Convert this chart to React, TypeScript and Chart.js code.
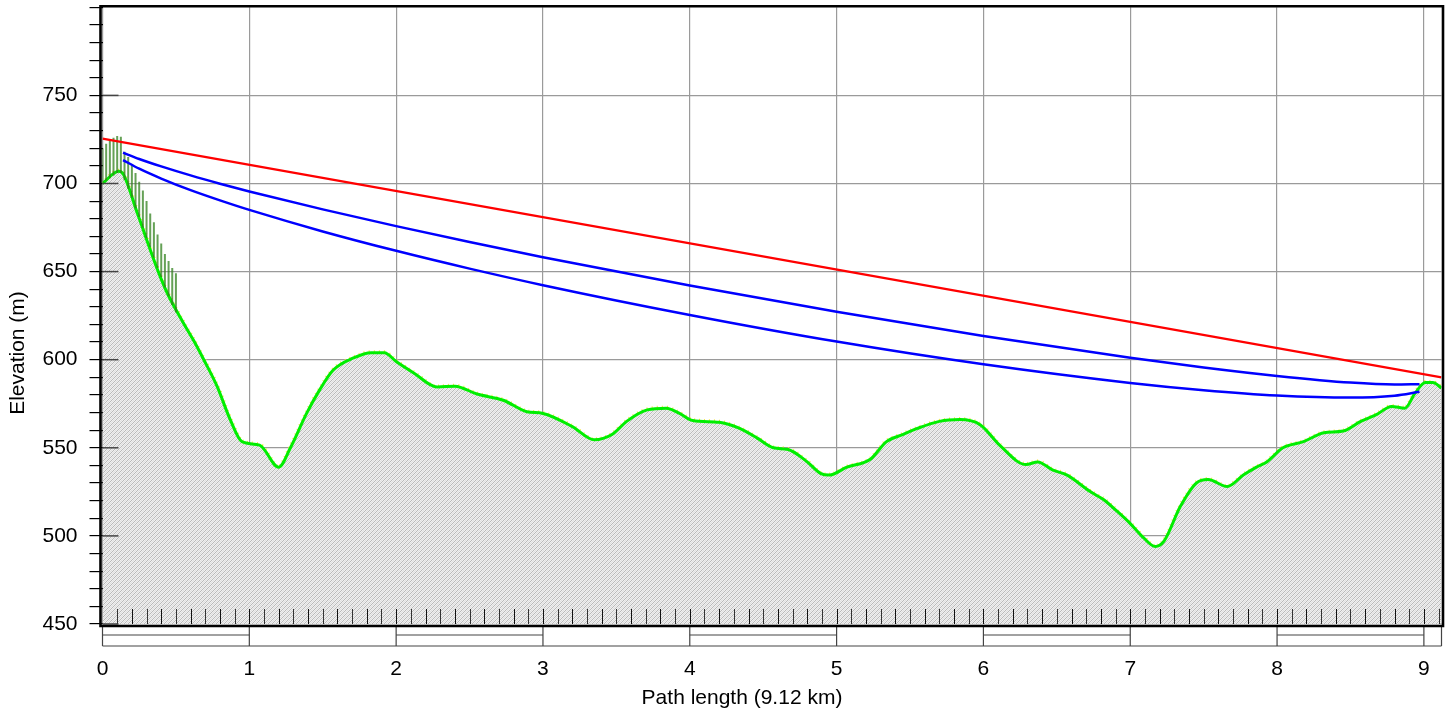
import React, { useEffect, useRef } from "react";
import { Chart, registerables } from "chart.js";

Chart.register(...registerables);

// ---- data ----
const TERRAIN_KM = [0, 0.11, 0.14, 0.24, 0.38, 0.44, 0.55, 0.62, 0.69, 0.78, 0.87, 0.95, 1.07, 1.2, 1.28, 1.39, 1.48, 1.57, 1.71, 1.83, 1.92, 2.0, 2.12, 2.28, 2.4, 2.55, 2.73, 2.89, 3.0, 3.2, 3.35, 3.47, 3.57, 3.71, 3.84, 3.93, 4.02, 4.2, 4.34, 4.46, 4.57, 4.67, 4.8, 4.89, 4.95, 5.07, 5.23, 5.34, 5.45, 5.55, 5.7, 5.84, 5.98, 6.11, 6.29, 6.37, 6.47, 6.57, 6.73, 6.82, 6.91, 7.0, 7.09, 7.17, 7.23, 7.34, 7.45, 7.53, 7.66, 7.77, 7.86, 7.93, 8.04, 8.18, 8.32, 8.45, 8.57, 8.68, 8.78, 8.87, 8.94, 9.01, 9.06, 9.12];
const TERRAIN_ELEV = [700, 707, 705.5, 682.5, 650, 638, 621, 611, 600, 585, 566, 553.5, 551.5, 539, 550, 569.5, 583, 594, 601, 604, 604, 599, 592.5, 584.5, 585, 580.5, 577, 570.5, 569.5, 562, 554.5, 557.5, 565, 571.5, 572.5, 569.5, 565.5, 564.5, 561, 555.5, 550, 549, 542, 535.5, 534.5, 539, 543.5, 553.5, 557.5, 561, 565, 566, 563, 551.5, 540.5, 542, 537.5, 534.5, 525, 520.5, 514, 507, 499, 494, 497, 516.5, 530, 532, 528, 534.5, 539, 542, 550, 553.5, 558.5, 559.5, 565, 569, 573.5, 572.5, 581, 587, 587, 584];

const LOS_KM = [0, 9.12];
const LOS_ELEV = [725.5, 590];

const UPPER_KM = [0.14, 0.25, 0.4, 0.6, 0.8, 1.0, 1.5, 2, 2.5, 3, 4, 5, 6, 7, 7.5, 8, 8.5, 8.8, 8.97];
const UPPER_ELEV = [717.5, 713.9, 709.7, 704.6, 699.9, 695.5, 685.3, 675.8, 666.8, 658.2, 642.1, 627.2, 613.4, 601.1, 595.6, 590.8, 587.0, 585.9, 586.1];

const LOWER_KM = [0.14, 0.25, 0.4, 0.6, 0.8, 1.0, 1.5, 2, 2.5, 3, 4, 5, 6, 7, 7.5, 8, 8.5, 8.8, 8.97];
const LOWER_ELEV = [713.3, 708.4, 702.8, 696.2, 690.4, 685.0, 672.8, 661.8, 651.7, 642.3, 625.4, 610.3, 597.4, 586.8, 582.7, 579.7, 578.5, 579.6, 581.8];

const HATCH_KM = [0, 0.025, 0.05, 0.075, 0.1, 0.125, 0.15, 0.175, 0.2, 0.225, 0.25, 0.275, 0.3, 0.325, 0.35, 0.375, 0.4, 0.425, 0.45, 0.475, 0.5];
const HATCH_TOP = [720, 722.5, 724.5, 726, 727, 726.5, 718, 715, 711, 706, 701, 696, 690, 683, 678, 671, 666, 660, 656, 652, 649];
const HATCH_BOTTOM = [700, 701.5, 703, 704.5, 706, 706, 702, 697, 692, 686, 681, 675, 669, 664, 658, 652, 647, 641, 636, 631, 627];

const X_TICKS = [0, 1, 2, 3, 4, 5, 6, 7, 8, 9];
const Y_TICKS = [450, 460, 470, 480, 490, 500, 510, 520, 530, 540, 550, 560, 570, 580, 590, 600, 610, 620, 630, 640, 650, 660, 670, 680, 690, 700, 710, 720, 730, 740, 750, 760, 770, 780, 790, 800];
const Y_LABELS = [450, 500, 550, 600, 650, 700, 750];
const X_MINOR = Array.from({ length: 91 }, (_, i) => Math.round((i + 1) * 10) / 100);
const SCALE_BAR_FILLED = [[0, 1], [2, 3], [4, 5], [6, 7], [8, 9]];

const X_TITLE = "Path length (9.12 km)";
const Y_TITLE = "Elevation (m)";

const X_MIN = 0;
const X_MAX = 9.12;
const Y_MIN = 450;
const Y_MAX = 800;

const FONT_FAMILY = "'Liberation Sans', Arial, sans-serif";
const FONT = { family: FONT_FAMILY, size: 21 };

const pts = (xs: number[], ys: number[]) => xs.map((x, i) => ({ x, y: ys[i] }));

const extrasPlugin = {
  id: "extras",
  afterDatasetsDraw(chart: any) {
    const { ctx, chartArea } = chart;
    const xs = chart.scales.x;
    const ys = chart.scales.y;
    const L = chartArea.left, R = chartArea.right, T = chartArea.top, B = chartArea.bottom;
    ctx.save();
    // minor ticks along bottom inside plot
    ctx.lineWidth = 1;
    X_MINOR.forEach((v, i) => {
      if (v > X_MAX) return;
      const px = Math.round(xs.getPixelForValue(v)) + 0.5;
      ctx.strokeStyle = i % 2 === 0 ? "#333" : "#111";
      ctx.beginPath();
      ctx.moveTo(px, B - 15);
      ctx.lineTo(px, B);
      ctx.stroke();
    });
    // major y tick extension into plot
    ctx.strokeStyle = "#444";
    ctx.lineWidth = 1.5;
    Y_LABELS.forEach((v) => {
      const py = ys.getPixelForValue(v);
      ctx.beginPath();
      ctx.moveTo(L, py);
      ctx.lineTo(L + 16, py);
      ctx.stroke();
    });
    // scale bar under the axis
    const barTop = B + 2;
    const barBottom = B + 22;
    const barMid = B + 11;
    ctx.strokeStyle = "#444";
    ctx.lineWidth = 1.2;
    ctx.beginPath();
    ctx.moveTo(xs.getPixelForValue(X_MIN), barBottom);
    ctx.lineTo(xs.getPixelForValue(X_MAX), barBottom);
    ctx.stroke();
    [...X_TICKS, X_MAX].forEach((v) => {
      const px = xs.getPixelForValue(v);
      ctx.beginPath();
      ctx.moveTo(px, barTop);
      ctx.lineTo(px, barBottom);
      ctx.stroke();
    });
    SCALE_BAR_FILLED.forEach(([a, b]) => {
      ctx.beginPath();
      ctx.moveTo(xs.getPixelForValue(a), barMid);
      ctx.lineTo(xs.getPixelForValue(b), barMid);
      ctx.stroke();
    });
    // frame
    ctx.strokeStyle = "#000";
    ctx.lineWidth = 2.6;
    ctx.beginPath();
    ctx.moveTo(L - 2, T - 1);
    ctx.lineTo(R + 1.5, T - 1);
    ctx.lineTo(R + 1.5, B + 2);
    ctx.lineTo(L - 2, B + 2);
    ctx.closePath();
    ctx.stroke();
    // axis titles
    ctx.fillStyle = "#000";
    ctx.font = `${FONT.size}px ${FONT_FAMILY}`;
    ctx.textAlign = "center";
    ctx.textBaseline = "middle";
    ctx.fillText(X_TITLE, 742, 698);
    ctx.translate(18.5, 353);
    ctx.rotate(-Math.PI / 2);
    ctx.fillText(Y_TITLE, 0, 0);
    ctx.restore();
  },
};

export default function App() {
  const ref = useRef<HTMLCanvasElement | null>(null);
  useEffect(() => {
    if (!ref.current) return;
    const pc = document.createElement("canvas");
    pc.width = 4;
    pc.height = 4;
    const g = pc.getContext("2d")!;
    g.fillStyle = "#f0f0f0";
    g.fillRect(0, 0, 4, 4);
    g.fillStyle = "#bababa";
    for (let i = 0; i < 4; i++) g.fillRect(i, 3 - i, 1, 1);
    g.fillStyle = "#dedede";
    for (let i = 0; i < 4; i++) g.fillRect(i, (5 - i) % 4, 1, 1);
    const pattern = ref.current.getContext("2d")!.createPattern(pc, "repeat");

    const hatchData: any[] = [];
    HATCH_KM.forEach((x, i) => {
      hatchData.push({ x, y: HATCH_BOTTOM[i] });
      hatchData.push({ x, y: HATCH_TOP[i] });
      hatchData.push({ x, y: null });
    });

    const chart = new Chart(ref.current, {
      type: "line",
      data: {
        datasets: [
          {
            label: "terrain",
            data: pts(TERRAIN_KM, TERRAIN_ELEV),
            borderColor: "#00ee00",
            borderWidth: 3,
            backgroundColor: pattern as any,
            fill: "start",
            pointRadius: 0,
            cubicInterpolationMode: "monotone",
            order: 3,
          },
          {
            label: "terrain-dots",
            data: pts(TERRAIN_KM, TERRAIN_ELEV),
            borderColor: "#f5e642",
            borderWidth: 5,
            borderDash: [1, 4],
            fill: false,
            pointRadius: 0,
            cubicInterpolationMode: "monotone",
            order: 4,
          },
          {
            label: "hatch",
            data: hatchData,
            borderColor: "rgba(50,130,30,0.75)",
            borderWidth: 2,
            fill: false,
            pointRadius: 0,
            spanGaps: false,
            order: 2,
          },
          {
            label: "los",
            data: pts(LOS_KM, LOS_ELEV),
            borderColor: "#ff0000",
            borderWidth: 2.2,
            fill: false,
            pointRadius: 0,
            order: 1,
          },
          {
            label: "upper",
            data: pts(UPPER_KM, UPPER_ELEV),
            borderColor: "#0000ff",
            borderWidth: 2.5,
            fill: false,
            pointRadius: 0,
            cubicInterpolationMode: "monotone",
            order: 1,
          },
          {
            label: "lower",
            data: pts(LOWER_KM, LOWER_ELEV),
            borderColor: "#0000ff",
            borderWidth: 2.5,
            fill: false,
            pointRadius: 0,
            cubicInterpolationMode: "monotone",
            order: 1,
          },
        ],
      },
      options: {
        animation: false,
        responsive: true,
        maintainAspectRatio: false,
        layout: { padding: { top: 7.3, right: 8.5, left: 0, bottom: 0 } },
        plugins: { legend: { display: false }, tooltip: { enabled: false } },
        scales: {
          x: {
            type: "linear",
            min: X_MIN,
            max: X_MAX,
            afterBuildTicks: (s: any) => {
              s.ticks = X_TICKS.map((v) => ({ value: v }));
            },
            afterFit: (s: any) => {
              s.height = 90;
              s.paddingLeft = 0;
              s.paddingRight = 0;
            },
            grid: { color: "#9a9a9a", lineWidth: 1.2, drawTicks: false },
            border: { display: false },
            ticks: {
              padding: 33,
              font: FONT,
              color: "#000",
              maxRotation: 0,
              autoSkip: false,
              callback: (v: any) => String(v),
            },
            title: { display: false },
          },
          y: {
            type: "linear",
            min: Y_MIN,
            max: Y_MAX,
            afterBuildTicks: (s: any) => {
              s.ticks = Y_TICKS.map((v) => ({ value: v }));
            },
            afterFit: (s: any) => {
              s.width = 102.5;
              s.paddingTop = 0;
              s.paddingBottom = 0;
            },
            grid: {
              color: (c: any) => (Y_LABELS.includes(c.tick?.value) ? "#9a9a9a" : "rgba(0,0,0,0)"),
              tickColor: "#000",
              tickLength: 13,
              lineWidth: 1.2,
            },
            border: { display: false },
            ticks: {
              padding: 12,
              font: FONT,
              color: "#000",
              autoSkip: false,
              callback: (v: any) => (Y_LABELS.includes(Number(v)) ? String(v) : ""),
            },
            title: { display: false },
          },
        },
      },
      plugins: [extrasPlugin],
    });
    return () => chart.destroy();
  }, []);

  return (
    <div style={{ position: "absolute", left: 0, top: 0, width: 1450, height: 714, background: "#fff" }}>
      <canvas ref={ref} />
    </div>
  );
}
